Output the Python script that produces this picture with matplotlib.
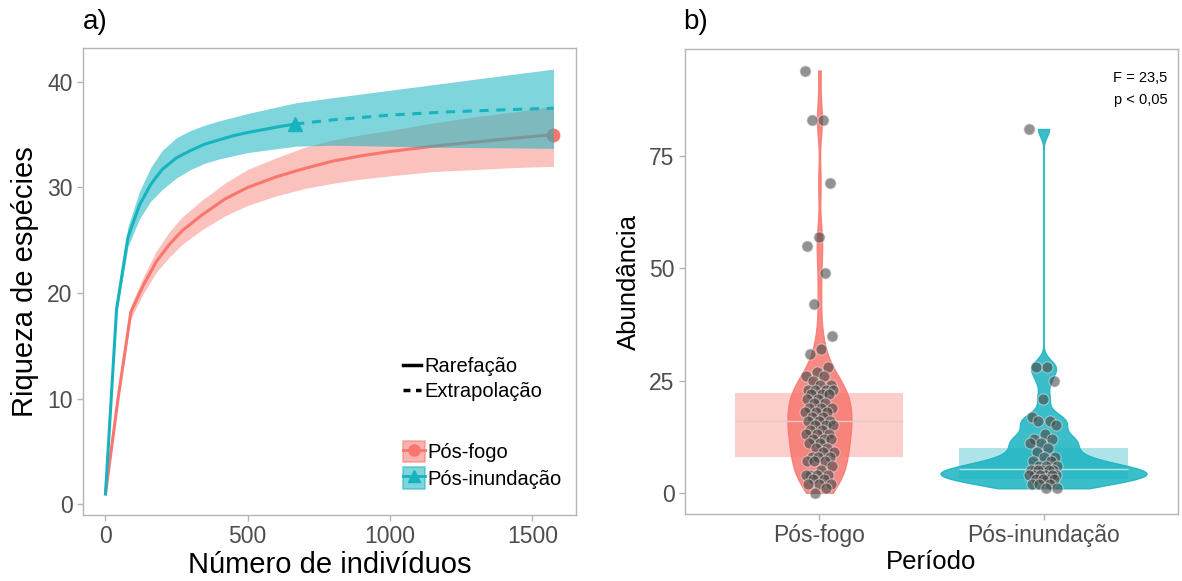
import numpy as np
import matplotlib
matplotlib.use("Agg")
import matplotlib.pyplot as plt
from matplotlib.patches import Patch
from matplotlib.lines import Line2D

plt.rcParams['font.family'] = ['Liberation Sans', 'DejaVu Sans']

RED = '#F8766D'
CYAN = '#17B3C0'
TICK_GREY = '#4D4D4D'
FRAME_GREY = '#B5B5B5'

# ---- panel a: rarefaction / extrapolation curves ----
fogo_x = [1, 45, 90, 135, 180, 225, 270, 340, 420, 500, 600, 700, 800, 900, 1000, 1150, 1300, 1450, 1574]
fogo_y = [1, 10, 18.2, 20.8, 23.0, 24.6, 25.9, 27.4, 28.9, 30.0, 31.0, 31.8, 32.5, 33.0, 33.4, 33.9, 34.3, 34.7, 35.0]
fogo_lo = [1, 9.8, 17.6, 20.0, 22.0, 23.4, 24.6, 26.0, 27.3, 28.3, 29.2, 29.9, 30.4, 30.8, 31.1, 31.5, 31.7, 31.9, 32.0]
fogo_hi = [1, 10.2, 18.8, 21.6, 24.0, 25.8, 27.2, 28.8, 30.4, 31.7, 32.8, 33.8, 34.5, 35.0, 35.4, 36.1, 36.7, 37.2, 37.7]

inund_x = [1, 40, 80, 120, 160, 200, 250, 300, 350, 400, 450, 500, 560, 620, 667]
inund_y = [1, 18.5, 25.3, 28.3, 30.3, 31.7, 32.8, 33.5, 34.1, 34.5, 34.9, 35.2, 35.5, 35.8, 36.0]
inund_ext_x = [667, 800, 1000, 1200, 1400, 1574]
inund_ext_y = [36.0, 36.4, 36.85, 37.15, 37.35, 37.5]

inund_band_x = [1, 40, 80, 120, 160, 200, 250, 300, 350, 400, 500, 667, 800, 1000, 1200, 1400, 1574]
inund_lo = [1, 18.0, 24.4, 27.0, 28.7, 29.8, 30.9, 31.7, 32.3, 32.7, 33.3, 33.9, 34.0, 33.9, 33.8, 33.75, 33.7]
inund_hi = [1, 19.0, 26.3, 29.6, 31.9, 33.5, 34.7, 35.4, 35.9, 36.3, 37.0, 38.0, 38.5, 39.2, 39.9, 40.6, 41.2]

# ---- panel b: abundance per period ----
periods = ['Pós-fogo', 'Pós-inundação']
fogo_abund = [94, 83, 83, 69, 57, 55, 49, 42, 35, 32, 31, 28, 27, 26, 26, 25, 24, 24, 23, 23,
              23, 23, 22, 22, 22, 21, 21, 20, 20, 19, 19, 19, 18, 18, 18, 17, 17, 16, 16, 16,
              15, 15, 15, 14, 14, 13, 13, 13, 12, 12, 12, 11, 11, 10, 10, 9, 9, 8, 8, 8,
              7, 7, 7, 6, 5, 4, 4, 4, 4, 3, 3, 2, 2, 2, 1, 0]
inund_abund = [81, 28, 28, 25, 21, 17, 16, 16, 15, 13, 12, 12, 11, 11, 10, 9, 8, 8, 7, 7,
               6, 6, 6, 5, 5, 5, 5, 5, 5, 4, 4, 4, 4, 4, 4, 3, 3, 3, 3, 2, 2, 2, 1, 1]
box_lo = [8.0, 3.0]
box_mid = [15.9, 5.4]
box_hi = [22.3, 10.1]


def kde(values, grid, bw):
    v = np.asarray(values, float)[:, None]
    return np.exp(-0.5 * ((grid[None, :] - v) / bw) ** 2).sum(axis=0) / (len(v) * bw * np.sqrt(2 * np.pi))


fig = plt.figure(figsize=(11.82, 5.81), dpi=100)
ax1 = fig.add_axes([0.0702, 0.1136, 0.4171, 0.8038])
ax2 = fig.add_axes([0.5795, 0.1153, 0.4171, 0.7997])

# panel a
ax1.fill_between(fogo_x, fogo_lo, fogo_hi, color=RED, alpha=0.45, lw=0, zorder=1)
ax1.plot(fogo_x, fogo_y, color=RED, lw=2.2, zorder=2)
ax1.plot(fogo_x[-1], fogo_y[-1], 'o', color=RED, ms=9, zorder=2)
ax1.fill_between(inund_band_x, inund_lo, inund_hi, color=CYAN, alpha=0.55, lw=0, zorder=3)
ax1.plot(inund_x, inund_y, color=CYAN, lw=2.2, zorder=4)
ax1.plot(inund_ext_x, inund_ext_y, color=CYAN, lw=2.2, dashes=(3, 2.5), zorder=4)
ax1.plot(inund_x[-1], inund_y[-1], '^', color=CYAN, ms=10, zorder=5)

ax1.set_xlim(-78, 1653)
ax1.set_ylim(-1.0, 43.2)
ax1.set_xticks([0, 500, 1000, 1500])
ax1.set_yticks([0, 10, 20, 30, 40])
ax1.set_xlabel('Número de indivíduos', fontsize=21, labelpad=2)
ax1.set_ylabel('Riqueza de espécies', fontsize=21, labelpad=6)

lt_handles = [Line2D([], [], color='black', lw=2.5),
              Line2D([], [], color='black', lw=2.5, dashes=(2, 1.6))]
leg1 = ax1.legend(lt_handles, ['Rarefação', 'Extrapolação'], loc='upper left',
                  bbox_to_anchor=(0.628, 0.36), frameon=False, fontsize=14.5,
                  handlelength=0.9, handletextpad=0.2, borderpad=0, labelspacing=0.3)
ax1.add_artist(leg1)
col_handles = [(Patch(fc=RED, alpha=0.55, ec=RED, lw=1.2), Line2D([], [], color=RED, marker='o', ms=8, lw=2)),
               (Patch(fc=CYAN, alpha=0.55, ec=CYAN, lw=1.2), Line2D([], [], color=CYAN, marker='^', ms=9, lw=2))]
ax1.legend(col_handles, ['Pós-fogo', 'Pós-inundação'], loc='upper left',
           bbox_to_anchor=(0.628, 0.18), frameon=False, fontsize=14.5,
           handlelength=1.1, handleheight=1.25, handletextpad=0.15, borderpad=0, labelspacing=0.25)

# panel b
positions = [1, 2]
colors = [RED, CYAN]
half_widths = [0.143, 0.46]
bandwidths = [4.0, 1.7]
for pos, vals, col, hw, bw, lo, mid, hi in zip(positions, [fogo_abund, inund_abund], colors,
                                               half_widths, bandwidths, box_lo, box_mid, box_hi):
    ax2.bar(pos, hi - lo, bottom=lo, width=0.75, color=col, alpha=0.35, lw=0, zorder=1)
    grid = np.linspace(min(vals), max(vals), 500)
    dens = kde(vals, grid, bw)
    w = dens / dens.max() * hw
    ax2.fill_betweenx(grid, pos - w, pos + w, color=col, alpha=0.85, lw=0.9,
                      edgecolor=col, zorder=2)
    ax2.hlines(mid, pos - 0.375, pos + 0.375, color='#E6C6C6' if col == RED else '#B8E3E6',
               lw=1.0, zorder=3)
    n = len(vals)
    offs = ((np.arange(n) * 0.618034) % 1 - 0.5) * 0.13
    ax2.scatter(pos + offs, vals, s=64, color='#4A4A4A', alpha=0.6, edgecolors='#E0E0E0',
                linewidths=0.8, zorder=4)

ax2.set_xlim(0.4, 2.6)
ax2.set_ylim(-4.7, 98.7)
ax2.set_xticks(positions)
ax2.set_xticklabels(periods)
ax2.set_yticks([0, 25, 50, 75])
ax2.set_xlabel('Período', fontsize=18.5, labelpad=2)
ax2.set_ylabel('Abundância', fontsize=18.5, labelpad=6)
ax2.text(0.978, 0.953, 'F = 23,5\np < 0,05', transform=ax2.transAxes, fontsize=10.5,
         ha='right', va='top', linespacing=1.7)

for ax in (ax1, ax2):
    for sp in ax.spines.values():
        sp.set_color(FRAME_GREY)
        sp.set_linewidth(1.0)
    ax.tick_params(colors=FRAME_GREY, labelcolor=TICK_GREY, labelsize=16.5, length=4, width=1)

fig.text(0.0702, 0.962, 'a)', fontsize=20, va='center', ha='left')
fig.text(0.5780, 0.962, 'b)', fontsize=20, va='center', ha='left')

fig.savefig('out.png', dpi=100, facecolor='white')
